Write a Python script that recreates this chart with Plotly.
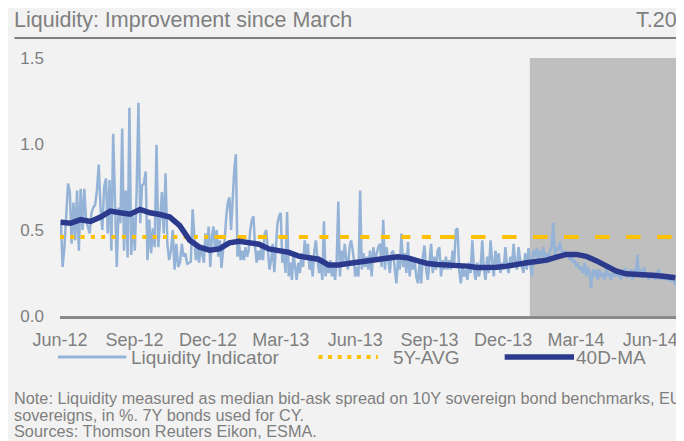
import pandas as pd
import plotly.graph_objects as go

# ---------------- data ----------------
title_text = "Liquidity: Improvement since March"
chart_id = "T.20"
note_lines = [
    "Note: Liquidity measured as median bid-ask spread on 10Y sovereign bond benchmarks, EU",
    "sovereigns, in %. 7Y bonds used for CY.",
    "Sources: Thomson Reuters Eikon, ESMA.",
]
series_names = ["Liquidity Indicator", "5Y-AVG", "40D-MA"]

tick_dates = ["2012-06-01", "2012-09-01", "2012-12-01", "2013-03-01", "2013-06-01",
              "2013-09-01", "2013-12-01", "2014-03-01", "2014-06-01"]
tick_labels = ["Jun-12", "Sep-12", "Dec-12", "Mar-13", "Jun-13",
               "Sep-13", "Dec-13", "Mar-14", "Jun-14"]
y_ticks = [0.0, 0.5, 1.0, 1.5]

# Liquidity indicator in three stretches
liq_seg1_span = ("2012-06-02", "2012-11-12")
liq_seg1 = [0.56, 0.285, 0.40, 0.60, 0.77, 0.72, 0.42, 0.66, 0.44, 0.73, 0.38, 0.74, 0.50,
            0.74, 0.56, 0.52, 0.48, 0.60, 0.63, 0.645, 0.73, 0.88, 0.63, 0.50, 0.75, 0.80,
            0.48, 0.79, 0.38, 1.06, 0.58, 0.285, 0.63, 0.54, 1.09, 0.38, 0.73, 0.34, 1.21,
            0.355, 0.58, 0.38, 0.73, 1.24, 0.54, 0.76, 0.77, 0.84, 0.325, 0.56, 0.365, 0.51,
            0.40, 0.995, 0.40, 0.56, 0.72, 0.48, 0.83, 0.42, 0.325, 0.38, 0.50, 0.27, 0.42,
            0.285, 0.31, 0.42, 0.345, 0.365, 0.30, 0.31, 0.315, 0.62]
liq_seg2_span = ("2012-11-16", "2013-05-29")
liq_seg2 = [0.325, 0.40, 0.31, 0.40, 0.365, 0.31, 0.48, 0.38, 0.52, 0.285, 0.46, 0.52, 0.38,
            0.50, 0.345, 0.44, 0.28, 0.38, 0.44, 0.58, 0.66, 0.69, 0.50, 0.675, 0.85, 0.94,
            0.345, 0.42, 0.325, 0.38, 0.325, 0.40, 0.345, 0.38, 0.50, 0.56, 0.58, 0.40, 0.31,
            0.38, 0.325, 0.40, 0.325, 0.48, 0.50, 0.38, 0.27, 0.325, 0.42, 0.255, 0.38, 0.54,
            0.58, 0.60, 0.31, 0.38, 0.25, 0.605, 0.23, 0.31, 0.21, 0.365, 0.285, 0.21, 0.31,
            0.25, 0.365, 0.285, 0.44, 0.345, 0.42, 0.27, 0.325, 0.23, 0.38, 0.44, 0.325, 0.25,
            0.325, 0.21, 0.55, 0.23, 0.31, 0.25, 0.325, 0.23, 0.285, 0.21, 0.325, 0.665, 0.23,
            0.38, 0.31, 0.42, 0.325, 0.27, 0.40, 0.44, 0.38]
liq_seg3_span = ("2013-05-30", "2014-07-04")
liq_seg3 = [0.345, 0.23, 0.285, 0.23, 0.73, 0.27, 0.365, 0.285, 0.345, 0.27, 0.38, 0.23, 0.40,
            0.325, 0.365, 0.40, 0.42, 0.285, 0.56, 0.27,
            0.40, 0.31, 0.25, 0.365, 0.38, 0.27, 0.19, 0.345, 0.27, 0.48,
            0.285, 0.365, 0.25, 0.43, 0.23, 0.345, 0.27, 0.325, 0.23, 0.19,
            0.31, 0.19, 0.345, 0.41, 0.27, 0.21, 0.345, 0.42, 0.25, 0.345,
            0.27, 0.38, 0.40, 0.23, 0.325, 0.27, 0.345, 0.27, 0.325, 0.27,
            0.38, 0.31, 0.50, 0.51, 0.27, 0.19, 0.285, 0.23, 0.27, 0.21,
            0.31, 0.25, 0.44, 0.27, 0.21, 0.31, 0.23, 0.285, 0.44, 0.27,
            0.21, 0.345, 0.25, 0.44, 0.325, 0.23, 0.38, 0.285, 0.365, 0.25,
            0.31, 0.27, 0.40, 0.285, 0.25, 0.345, 0.285, 0.42, 0.31, 0.27,
            0.40, 0.325, 0.285, 0.25, 0.365, 0.27, 0.395, 0.31, 0.23, 0.38,
            0.345, 0.395, 0.31, 0.38, 0.345, 0.40, 0.325, 0.365, 0.31, 0.38,
            0.40, 0.54, 0.345, 0.40, 0.38, 0.43, 0.38, 0.365, 0.38, 0.345,
            0.365, 0.325, 0.345, 0.31, 0.325, 0.285, 0.31, 0.27, 0.285, 0.25,
            0.31, 0.23, 0.285, 0.25, 0.16, 0.27, 0.23, 0.27, 0.21, 0.27,
            0.23, 0.25, 0.21, 0.27, 0.23, 0.25, 0.21, 0.25, 0.23, 0.27,
            0.23, 0.25, 0.21, 0.27, 0.23, 0.28, 0.22, 0.25, 0.27, 0.21,
            0.27, 0.23, 0.355, 0.23, 0.27, 0.22, 0.285, 0.23, 0.25, 0.21,
            0.25, 0.22, 0.24, 0.21, 0.25, 0.27, 0.21, 0.23, 0.21, 0.24,
            0.21, 0.23, 0.20, 0.23, 0.21, 0.18, 0.21]

# 40-day moving average
ma_span = ("2012-06-02", "2014-07-02")
ma_values = [0.545, 0.54, 0.56, 0.55, 0.575, 0.61, 0.60, 0.592, 0.62, 0.60, 0.59, 0.575,
             0.525, 0.44, 0.40, 0.383, 0.39, 0.425, 0.435, 0.427, 0.417, 0.39, 0.383, 0.37,
             0.348, 0.338, 0.33, 0.297, 0.297, 0.305, 0.313, 0.318, 0.33, 0.34, 0.345, 0.338,
             0.32, 0.305, 0.30, 0.298, 0.297, 0.29, 0.282, 0.282, 0.283, 0.29, 0.302, 0.31,
             0.317, 0.325, 0.342, 0.358, 0.358, 0.347, 0.322, 0.29, 0.262, 0.245, 0.239,
             0.238, 0.235, 0.23, 0.222]

# 5-year average (constant level)
avg_dates = ["2012-06-01", "2012-12-12", "2013-09-14", "2014-07-04"]
avg_values = [0.46, 0.46, 0.46, 0.46]

# highlighted period
shade_span = ("2014-01-03", "2014-07-04")
x_range = ("2012-06-01", "2014-07-04")
y_range = (0, 1.5)

# ---------------- styling ----------------
W, H = 684, 441
OFF = 8                      # page offset of the figure (body margin)
PL, PR, PT, PB = 54, 677, 58, 316   # plot area on the page
L, T = PL - OFF, PT - OFF
R, B = W - (PR - OFF), H - (PB - OFF)
FONT = "Liberation Sans, Arial, sans-serif"
GRAY = "#7F7F7F"
BG = "#F2F2F2"
C_LIQ = "#95B3D7"
C_AVG = "#FFC000"
C_MA = "#2B3A8C"
C_SHADE = "#BFBFBF"


def xp(px):
    return (px - PL) / (PR - PL)


def yp(py):
    return (PB - py) / (PB - PT)


liq_x = []
liq_y = []
for span, seg in [(liq_seg1_span, liq_seg1), (liq_seg2_span, liq_seg2), (liq_seg3_span, liq_seg3)]:
    liq_x += list(pd.date_range(span[0], span[1], periods=len(seg)))
    liq_y += seg
ma_x = list(pd.date_range(ma_span[0], ma_span[1], periods=len(ma_values)))

fig = go.Figure()
fig.add_trace(go.Scatter(x=liq_x, y=liq_y, mode="lines", name=series_names[0],
                         line=dict(color=C_LIQ, width=2.5), showlegend=False))
avg_dashes = ["4px,6.3px", "9px,11.5px", "14.5px,16.5px"]
for i, d in enumerate(avg_dashes):
    fig.add_trace(go.Scatter(x=avg_dates[i:i + 2], y=avg_values[i:i + 2], mode="lines",
                             name=series_names[1], line=dict(color=C_AVG, width=4, dash=d),
                             showlegend=False))
fig.add_trace(go.Scatter(x=ma_x, y=ma_values, mode="lines", name=series_names[2],
                         line=dict(color=C_MA, width=5.5), showlegend=False))

LEG_Y = 357
shapes = [
    dict(type="rect", xref="x", yref="y", x0=shade_span[0], x1=shade_span[1],
         y0=y_range[0], y1=y_range[1], fillcolor=C_SHADE, line=dict(width=0), layer="below"),
    # title rule
    dict(type="line", xref="paper", yref="paper", x0=xp(8), x1=xp(681), y0=yp(38), y1=yp(38),
         line=dict(color=GRAY, width=2)),
    # legend swatches
    dict(type="line", xref="paper", yref="paper", x0=xp(52), x1=xp(121), y0=yp(LEG_Y), y1=yp(LEG_Y),
         line=dict(color=C_LIQ, width=3)),
    dict(type="line", xref="paper", yref="paper", x0=xp(315), x1=xp(375), y0=yp(LEG_Y), y1=yp(LEG_Y),
         line=dict(color=C_AVG, width=4, dash="4px,5.6px")),
    dict(type="line", xref="paper", yref="paper", x0=xp(503), x1=xp(573), y0=yp(LEG_Y), y1=yp(LEG_Y),
         line=dict(color=C_MA, width=5.5)),
]

ann = [
    dict(text=title_text, x=xp(6), y=yp(20), xanchor="left", yanchor="middle",
         font=dict(size=21.5, color=GRAY)),
    dict(text=chart_id, x=xp(679), y=yp(20), xanchor="right", yanchor="middle",
         font=dict(size=21.5, color=GRAY)),
    dict(text=series_names[0], x=xp(124), y=yp(LEG_Y), xanchor="left", yanchor="middle",
         font=dict(size=19, color=GRAY)),
    dict(text=series_names[1], x=xp(388), y=yp(LEG_Y), xanchor="left", yanchor="middle",
         font=dict(size=19, color=GRAY)),
    dict(text=series_names[2], x=xp(573), y=yp(LEG_Y), xanchor="left", yanchor="middle",
         font=dict(size=19, color=GRAY)),
]
for line, py in zip(note_lines, [398, 414.5, 431]):
    ann.append(dict(text=line, x=xp(6), y=yp(py), xanchor="left", yanchor="middle",
                    font=dict(size=16.3, color=GRAY)))
for a in ann:
    a.update(xref="paper", yref="paper", showarrow=False)

fig.update_layout(
    width=W, height=H,
    margin=dict(l=L, r=R, t=T, b=B, pad=0),
    paper_bgcolor=BG, plot_bgcolor=BG,
    font=dict(family=FONT, color=GRAY),
    shapes=shapes, annotations=ann,
    showlegend=False,
    xaxis=dict(type="date", range=list(x_range), tickvals=tick_dates, ticktext=tick_labels,
               showgrid=False, zeroline=False, showline=True, linecolor="#898989", linewidth=2.5,
               ticks="", tickfont=dict(size=18, color=GRAY), ticklabelstandoff=6),
    yaxis=dict(range=list(y_range), tickvals=y_ticks, tickformat=".1f",
               showgrid=False, zeroline=False, showline=False, ticks="",
               tickfont=dict(size=17, color=GRAY), ticklabelstandoff=15),
)

fig.write_html("out.html")
